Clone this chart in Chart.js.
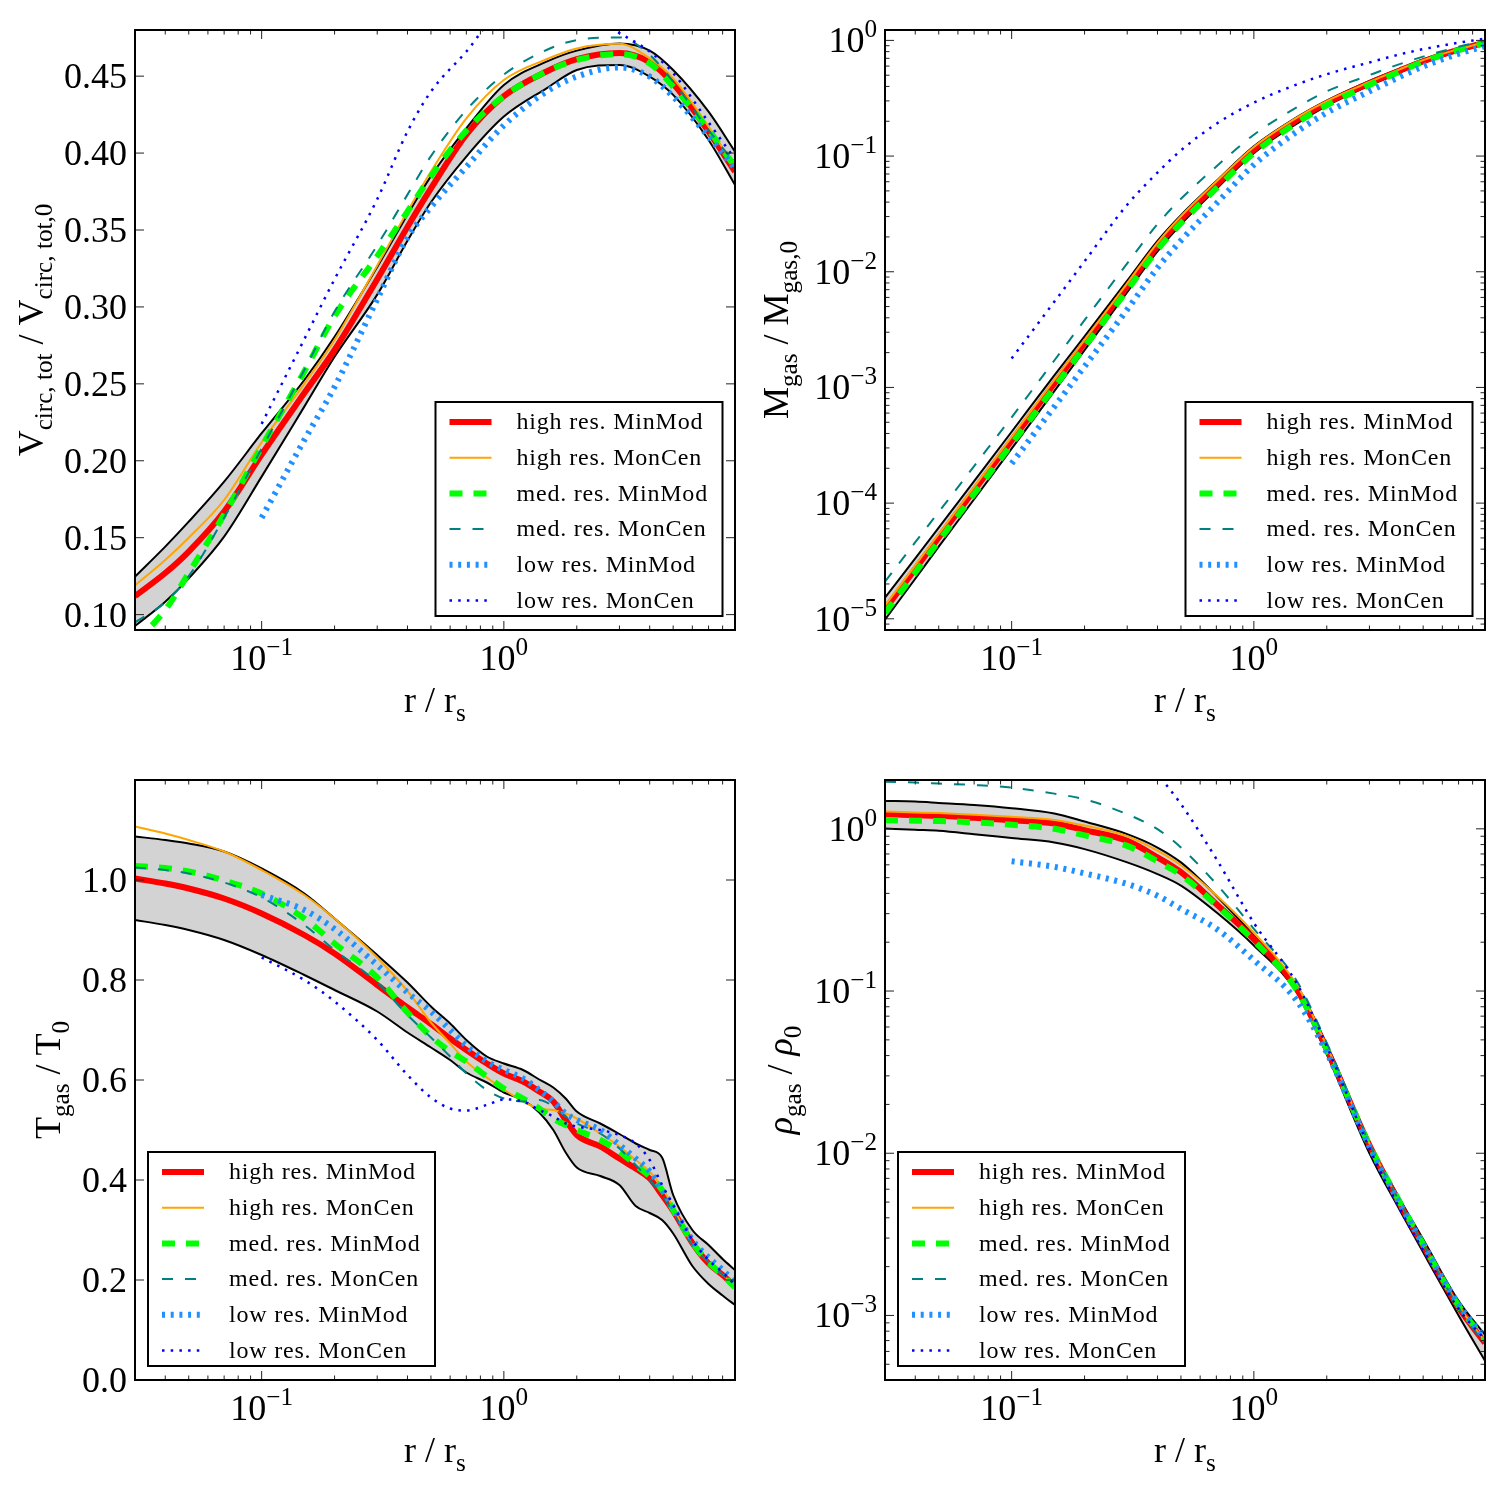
<!DOCTYPE html>
<html>
<head>
<meta charset="utf-8">
<script src="https://cdn.jsdelivr.net/npm/chart.js@4.4.1/dist/chart.umd.min.js"></script>
<style>
  html, body { margin: 0; padding: 0; background: #fff; }
  #wrap { position: relative; width: 1500px; height: 1500px; }
  #wrap canvas { position: absolute; }
</style>
</head>
<body>
<div id="wrap">
  <canvas id="pVc"  width="750" height="750" style="left:0;top:0"></canvas>
  <canvas id="pMg"  width="750" height="750" style="left:750px;top:0"></canvas>
  <canvas id="pT"   width="750" height="750" style="left:0;top:750px"></canvas>
  <canvas id="pRho" width="750" height="750" style="left:750px;top:750px"></canvas>
</div>
<script>
/* ---------- data ---------- */

const X_MIN = 0.03, X_MAX = 9;

// radii (r / r_s) at which the curves were read
const R_A = [0.03, 0.04, 0.05, 0.07, 0.1, 0.15, 0.2, 0.3, 0.4, 0.5, 0.7, 1, 1.5, 2, 3, 4, 5, 7, 9];
const R_T = [0.03, 0.04, 0.05, 0.07, 0.1, 0.15, 0.2, 0.3, 0.4, 0.5, 0.6, 0.7, 0.85, 1, 1.2, 1.4, 1.6, 1.8, 2, 2.5, 3, 3.5, 4, 4.5, 5, 6, 7, 8, 9];

const SERIES_LABELS = ['high res. MinMod', 'high res. MonCen', 'med. res. MinMod',
                       'med. res. MonCen', 'low res. MinMod', 'low res. MonCen'];

// V_circ,tot / V_circ,tot,0
const vcUpper   = [0.1247, 0.1442, 0.1604, 0.1864, 0.2179, 0.2525, 0.2806, 0.326, 0.360, 0.385, 0.4161, 0.4443, 0.4594, 0.4666, 0.4713, 0.4666, 0.454, 0.4269, 0.4009];
const vcLower   = [0.0926, 0.1084, 0.1236, 0.1507, 0.1897, 0.2352, 0.2676, 0.308, 0.343, 0.368, 0.3977, 0.4237, 0.4421, 0.454, 0.4573, 0.4497, 0.4378, 0.4085, 0.3793];
const vcHighMin = [0.112, 0.127, 0.141, 0.167, 0.204, 0.244, 0.272, 0.318, 0.352, 0.377, 0.412, 0.437, 0.453, 0.461, 0.465, 0.459, 0.445, 0.414, 0.388];
const vcHighMon = [0.119, 0.1355, 0.150, 0.1745, 0.212, 0.250, 0.2785, 0.327, 0.362, 0.388, 0.4226, 0.4475, 0.461, 0.468, 0.471, 0.4616, 0.4486, 0.4172, 0.391];
const vcMedMin  = [0.082, 0.103, 0.127, 0.165, 0.209, 0.258, 0.294, 0.333, 0.362, 0.385, 0.4146, 0.437, 0.453, 0.4605, 0.4644, 0.4583, 0.4432, 0.415, 0.391];
const vcMedMon  = [0.095, 0.108, 0.125, 0.163, 0.208, 0.259, 0.297, 0.340, 0.373, 0.398, 0.428, 0.451, 0.467, 0.4735, 0.4752, 0.4638, 0.4464, 0.415, 0.3934];
const vcLowMin  = [null, null, null, null, 0.163, 0.2135, 0.248, 0.305, 0.345, 0.365, 0.391, 0.418, 0.440, 0.4497, 0.4557, 0.4497, 0.4367, 0.4107, 0.390];
const vcLowMon  = [null, null, null, null, 0.224, 0.279, 0.318, 0.370, 0.414, 0.440, 0.466, 0.495, 0.500, 0.495, 0.478, 0.466, 0.452, 0.420, 0.396];

// M_gas / M_gas,0
const mgUpper   = [1.52e-5, 3.33e-5, 6.14e-5, 1.55e-4, 4.14e-4, 1.27e-3, 2.77e-3, 8.38e-3, 0.0185, 0.0309, 0.061, 0.1216, 0.216, 0.302, 0.447, 0.569, 0.684, 0.851, 0.977];
const mgLower   = [9.84e-6, 2.22e-5, 4.2e-5, 1.08e-4, 2.96e-4, 9.29e-4, 2.1e-3, 6.65e-3, 0.015, 0.0257, 0.0519, 0.106, 0.19, 0.272, 0.407, 0.525, 0.638, 0.804, 0.923];
const mgHighMin = [1.21e-5, 2.70e-5, 5.05e-5, 1.29e-4, 3.48e-4, 1.08e-3, 2.41e-3, 7.46e-3, 0.0167, 0.0282, 0.0562, 0.1135, 0.204, 0.288, 0.427, 0.55, 0.661, 0.832, 0.955];
const mgHighMon = [1.3e-5, 2.9e-5, 5.41e-5, 1.38e-4, 3.73e-4, 1.16e-3, 2.57e-3, 7.94e-3, 0.0178, 0.0302, 0.0603, 0.120, 0.214, 0.299, 0.437, 0.562, 0.676, 0.841, 0.966];
const mgMedMin  = [1.12e-5, 2.51e-5, 4.68e-5, 1.2e-4, 3.24e-4, 1.0e-3, 2.24e-3, 6.92e-3, 0.0155, 0.0263, 0.0525, 0.106, 0.193, 0.275, 0.412, 0.537, 0.653, 0.822, 0.944];
const mgMedMon  = [2.1e-5, 4.59e-5, 8.38e-5, 2.09e-4, 5.52e-4, 1.71e-3, 3.82e-3, 0.0118, 0.0258, 0.0427, 0.0813, 0.153, 0.263, 0.363, 0.501, 0.624, 0.724, 0.881, 0.99];
const mgLowMin  = [null, null, null, null, 2.2e-4, 6.81e-4, 1.52e-3, 4.71e-3, 0.0108, 0.0186, 0.0389, 0.0841, 0.162, 0.237, 0.363, 0.484, 0.596, 0.767, 0.891];
const mgLowMon  = [null, null, null, null, 1.78e-3, 5.5e-3, 0.0123, 0.038, 0.072, 0.112, 0.19, 0.29, 0.415, 0.51, 0.645, 0.757, 0.84, 0.955, 1.035];

// T_gas / T_0
const tUpper   = [1.087, 1.08, 1.073, 1.057, 1.023, 0.973, 0.923, 0.85, 0.795, 0.747, 0.713, 0.68, 0.647, 0.633, 0.62, 0.601, 0.585, 0.563, 0.537, 0.513, 0.492, 0.473, 0.46, 0.445, 0.37, 0.30, 0.27, 0.242, 0.22];
const tLower   = [0.92, 0.91, 0.90, 0.88, 0.85, 0.81, 0.78, 0.737, 0.695, 0.665, 0.64, 0.615, 0.595, 0.575, 0.56, 0.535, 0.50, 0.455, 0.425, 0.408, 0.39, 0.348, 0.334, 0.32, 0.293, 0.228, 0.192, 0.169, 0.15];
const tHighMin = [1.003, 0.993, 0.983, 0.963, 0.933, 0.89, 0.853, 0.79, 0.745, 0.712, 0.683, 0.66, 0.633, 0.613, 0.597, 0.577, 0.557, 0.52, 0.49, 0.467, 0.443, 0.423, 0.403, 0.37, 0.338, 0.274, 0.233, 0.21, 0.187];
const tHighMon = [1.107, 1.093, 1.08, 1.057, 1.02, 0.97, 0.923, 0.845, 0.778, 0.715, 0.673, 0.637, 0.605, 0.581, 0.557, 0.543, 0.54, 0.533, 0.523, 0.493, 0.467, 0.44, 0.417, 0.385, 0.345, 0.27, 0.235, 0.21, 0.19];
const tMedMin  = [1.028, 1.024, 1.017, 0.999, 0.973, 0.923, 0.873, 0.805, 0.735, 0.687, 0.657, 0.637, 0.607, 0.583, 0.563, 0.543, 0.523, 0.51, 0.50, 0.48, 0.457, 0.43, 0.407, 0.38, 0.34, 0.275, 0.235, 0.21, 0.185];
const tMedMon  = [1.025, 1.02, 1.013, 0.995, 0.965, 0.91, 0.86, 0.795, 0.73, 0.685, 0.647, 0.613, 0.58, 0.563, 0.557, 0.56, 0.547, 0.527, 0.513, 0.493, 0.463, 0.43, 0.40, 0.37, 0.335, 0.27, 0.235, 0.21, 0.19];
const tLowMin  = [null, null, null, null, 0.97, 0.94, 0.902, 0.83, 0.775, 0.737, 0.70, 0.668, 0.637, 0.62, 0.603, 0.58, 0.557, 0.533, 0.52, 0.50, 0.47, 0.443, 0.417, 0.38, 0.345, 0.28, 0.245, 0.22, 0.195];
const tLowMon  = [null, null, null, null, 0.845, 0.80, 0.757, 0.68, 0.61, 0.565, 0.543, 0.539, 0.55, 0.561, 0.557, 0.54, 0.527, 0.513, 0.507, 0.50, 0.49, 0.473, 0.44, 0.39, 0.35, 0.28, 0.24, 0.215, 0.19];

// rho_gas / rho_0
const rhoUpper   = [1.486, 1.472, 1.445, 1.403, 1.34, 1.242, 1.109, 0.927, 0.767, 0.621, 0.387, 0.22, 0.108, 0.0468, 0.0117, 5.25e-3, 2.95e-3, 1.23e-3, 7.59e-4];
const rhoLower   = [1.005, 0.986, 0.973, 0.927, 0.877, 0.824, 0.75, 0.621, 0.526, 0.447, 0.306, 0.191, 0.0986, 0.0407, 0.01, 4.47e-3, 2.45e-3, 1.0e-3, 5.25e-4];
const rhoHighMin = [1.23, 1.213, 1.202, 1.169, 1.13, 1.079, 0.982, 0.843, 0.667, 0.54, 0.344, 0.209, 0.1035, 0.0437, 0.0112, 4.9e-3, 2.69e-3, 1.12e-3, 6.76e-4];
const rhoHighMon = [1.279, 1.262, 1.25, 1.222, 1.186, 1.135, 1.047, 0.902, 0.733, 0.596, 0.389, 0.229, 0.11, 0.0457, 0.0115, 5.01e-3, 2.75e-3, 1.15e-3, 6.92e-4];
const rhoMedMin  = [1.13, 1.122, 1.117, 1.096, 1.059, 1.0, 0.912, 0.785, 0.631, 0.519, 0.339, 0.204, 0.102, 0.0437, 0.0112, 5.01e-3, 2.75e-3, 1.15e-3, 7.08e-4];
const rhoMedMon  = [1.95, 1.928, 1.901, 1.862, 1.795, 1.648, 1.521, 1.23, 0.995, 0.767, 0.457, 0.242, 0.116, 0.0479, 0.0115, 5.01e-3, 2.75e-3, 1.12e-3, 6.61e-4];
const rhoLowMin  = [null, null, null, null, 0.631, 0.583, 0.531, 0.457, 0.387, 0.321, 0.242, 0.155, 0.0877, 0.0417, 0.011, 4.9e-3, 2.75e-3, 1.17e-3, 7.24e-4];
const rhoLowMon  = [null, null, null, null, 31.6, 15.8, 8.9, 3.98, 2.19, 1.42, 0.652, 0.263, 0.112, 0.0457, 0.0107, 4.57e-3, 2.51e-3, 1.1e-3, 7.08e-4];

// tick labels
const X_TICKS  = [0.1, 1];
const X_LABELS = [['10', '\u22121'], ['10', '0']];
const VC_TICKS  = [0.10, 0.15, 0.20, 0.25, 0.30, 0.35, 0.40, 0.45];
const VC_LABELS = ['0.10', '0.15', '0.20', '0.25', '0.30', '0.35', '0.40', '0.45'];
const T_TICKS  = [0.0, 0.2, 0.4, 0.6, 0.8, 1.0];
const T_LABELS = ['0.0', '0.2', '0.4', '0.6', '0.8', '1.0'];
const MG_TICKS  = [1e-5, 1e-4, 1e-3, 1e-2, 1e-1, 1];
const MG_LABELS = [['10', '\u22125'], ['10', '\u22124'], ['10', '\u22123'], ['10', '\u22122'], ['10', '\u22121'], ['10', '0']];
const RHO_TICKS  = [1e-3, 1e-2, 1e-1, 1];
const RHO_LABELS = [['10', '\u22123'], ['10', '\u22122'], ['10', '\u22121'], ['10', '0']];

/* ---------- styles ---------- */

const STYLES = [
  { color: '#ff0000', width: 6,   dash: [] },
  { color: '#ffa500', width: 2,   dash: [] },
  { color: '#00ff00', width: 6,   dash: [13, 11] },
  { color: '#008080', width: 2,   dash: [11, 12] },
  { color: '#1e90ff', width: 6,   dash: [3, 5.7] },
  { color: '#0000ff', width: 2.5, dash: [2.5, 6.2] }
];
const FONT = '"Liberation Serif", "DejaVu Serif", serif';

function fontOf(size, italic) {
    return (italic ? 'italic ' : '') + size + 'px ' + FONT;
}

// parts: [text, mode]  mode 0 normal, 1 subscript, 2 superscript, 3 italic
function drawRich(ctx, parts, x, y, size, align) {
    let w = 0;
    const segs = parts.map(([t, m]) => {
        const sz = (m === 1 || m === 2) ? size * 0.7 : size;
        ctx.font = fontOf(sz, m === 3);
        const s = { t, m, sz, x: w, dy: m === 1 ? size * 0.24 : (m === 2 ? -size * 0.42 : 0) };
        w += ctx.measureText(t).width;
        return s;
    });
    const x0 = align === 'center' ? x - w / 2 : (align === 'right' ? x - w : x);
    ctx.textAlign = 'left';
    ctx.textBaseline = 'alphabetic';
    segs.forEach(s => {
        ctx.font = fontOf(s.sz, s.m === 3);
        ctx.fillText(s.t, x0 + s.x, y + s.dy);
    });
}

function logTicks(min, max) {
    const out = [];
    for (let e = Math.floor(Math.log10(min)); e <= Math.ceil(Math.log10(max)); e++) {
        for (let k = 1; k <= 9; k++) {
            const v = k * Math.pow(10, e);
            if (v >= min * 0.999 && v <= max * 1.001) out.push({ v, major: k === 1 });
        }
    }
    return out;
}

function makeDecor(p) {
    return {
        id: 'decor',
        afterDraw(chart) {
            const ctx = chart.ctx, a = chart.chartArea;
            const xs = chart.scales.x, ys = chart.scales.y;
            ctx.save();

            // inward ticks on all four sides
            ctx.strokeStyle = '#222';
            ctx.lineWidth = 1;
            const seg = (x1, y1, x2, y2) => { ctx.beginPath(); ctx.moveTo(x1, y1); ctx.lineTo(x2, y2); ctx.stroke(); };
            logTicks(X_MIN, X_MAX).forEach(t => {
                const x = xs.getPixelForValue(t.v), L = t.major ? 9 : 4.5;
                seg(x, a.bottom, x, a.bottom - L);
                seg(x, a.top, x, a.top + L);
            });
            const yt = p.logY ? logTicks(p.yMin, p.yMax) : p.yTicks.map(v => ({ v, major: true }));
            yt.forEach(t => {
                const y = ys.getPixelForValue(t.v), L = t.major ? 9 : 4.5;
                seg(a.left, y, a.left + L, y);
                seg(a.right, y, a.right - L, y);
            });

            // frame
            ctx.strokeStyle = '#000';
            ctx.lineWidth = 2;
            ctx.strokeRect(a.left, a.top, a.right - a.left, a.bottom - a.top);

            // tick labels
            ctx.fillStyle = '#000';
            X_TICKS.forEach((v, i) => {
                drawRich(ctx, [[X_LABELS[i][0], 0], [X_LABELS[i][1], 2]], xs.getPixelForValue(v), a.bottom + 40, 36, 'center');
            });
            p.yTicks.forEach((v, i) => {
                const y = ys.getPixelForValue(v) + 12;
                const lab = p.yLabels[i];
                const parts = Array.isArray(lab) ? [[lab[0], 0], [lab[1], 2]] : [[lab, 0]];
                drawRich(ctx, parts, a.left - 8, y, 36, 'right');
            });

            // axis titles
            drawRich(ctx, [['r / r', 0], ['s', 1]], (a.left + a.right) / 2, a.bottom + 82, 36, 'center');
            ctx.save();
            ctx.translate(p.titleX, (a.top + a.bottom) / 2);
            ctx.rotate(-Math.PI / 2);
            drawRich(ctx, p.title, 0, 0, 36, 'center');
            ctx.restore();

            // legend
            const W = 287, H = 214;
            const bx = p.legendRight ? a.right - 12.5 - W : a.left + 13;
            const by = a.bottom - 14 - H;
            ctx.fillStyle = '#fff';
            ctx.fillRect(bx, by, W, H);
            ctx.strokeStyle = '#000';
            ctx.lineWidth = 2;
            ctx.strokeRect(bx, by, W, H);
            STYLES.forEach((s, i) => {
                const y = by + 20 + i * 35.7;
                ctx.beginPath();
                ctx.setLineDash(s.dash);
                ctx.lineCap = 'butt';
                ctx.lineWidth = s.width;
                ctx.strokeStyle = s.color;
                ctx.moveTo(bx + 14, y);
                ctx.lineTo(bx + 56, y);
                ctx.stroke();
                ctx.setLineDash([]);
                ctx.fillStyle = '#000';
                ctx.font = fontOf(24, false);
                if ('letterSpacing' in ctx) ctx.letterSpacing = '0.8px';
                ctx.textAlign = 'left';
                ctx.textBaseline = 'middle';
                ctx.fillText(SERIES_LABELS[i], bx + 81, y + 1);
                if ('letterSpacing' in ctx) ctx.letterSpacing = '0px';
            });
            ctx.restore();
        }
    };
}

function pts(xs, ys) {
    const out = [];
    xs.forEach((x, i) => { if (ys[i] !== null) out.push({ x, y: ys[i] }); });
    return out;
}

function panel(id, p) {
    const datasets = [
        { data: pts(p.r, p.upper), borderColor: '#000', borderWidth: 2, fill: '+1', backgroundColor: '#d3d3d3', order: 21 },
        { data: pts(p.r, p.lower), borderColor: '#000', borderWidth: 2, fill: false, order: 20 }
    ];
    p.series.forEach((vals, i) => {
        const s = STYLES[i];
        datasets.push({
            label: SERIES_LABELS[i], data: pts(p.r, vals),
            borderColor: s.color, borderWidth: s.width, borderDash: s.dash,
            fill: false, order: 6 - i
        });
    });
    return new Chart(document.getElementById(id), {
        type: 'line',
        data: { datasets },
        options: {
            responsive: false, animation: false, devicePixelRatio: 1,
            layout: { padding: { left: 135, top: 30, right: 15, bottom: 120 } },
            elements: {
                point: { radius: 0 },
                line: { tension: 0.4, cubicInterpolationMode: 'monotone', borderCapStyle: 'butt', borderJoinStyle: 'round' }
            },
            datasets: { line: { clip: 0 } },
            scales: {
                x: { type: 'logarithmic', min: X_MIN, max: X_MAX, display: false },
                y: { type: p.logY ? 'logarithmic' : 'linear', min: p.yMin, max: p.yMax, display: false }
            },
            plugins: { legend: { display: false }, tooltip: { enabled: false } }
        },
        plugins: [makeDecor(p)]
    });
}

panel('pVc', {
    r: R_A, upper: vcUpper, lower: vcLower,
    series: [vcHighMin, vcHighMon, vcMedMin, vcMedMon, vcLowMin, vcLowMon],
    logY: false, yMin: 0.09, yMax: 0.48, yTicks: VC_TICKS, yLabels: VC_LABELS,
    titleX: 43, legendRight: true,
    title: [['V', 0], ['circ, tot', 1], [' / V', 0], ['circ, tot,0', 1]]
});
panel('pMg', {
    r: R_A, upper: mgUpper, lower: mgLower,
    series: [mgHighMin, mgHighMon, mgMedMin, mgMedMon, mgLowMin, mgLowMon],
    logY: true, yMin: 8e-6, yMax: 1.23, yTicks: MG_TICKS, yLabels: MG_LABELS,
    titleX: 38, legendRight: true,
    title: [['M', 0], ['gas', 1], [' / M', 0], ['gas,0', 1]]
});
panel('pT', {
    r: R_T, upper: tUpper, lower: tLower,
    series: [tHighMin, tHighMon, tMedMin, tMedMon, tLowMin, tLowMon],
    logY: false, yMin: 0, yMax: 1.2, yTicks: T_TICKS, yLabels: T_LABELS,
    titleX: 60, legendRight: false,
    title: [['T', 0], ['gas', 1], [' / T', 0], ['0', 1]]
});
panel('pRho', {
    r: R_A, upper: rhoUpper, lower: rhoLower,
    series: [rhoHighMin, rhoHighMon, rhoMedMin, rhoMedMon, rhoLowMin, rhoLowMon],
    logY: true, yMin: 4e-4, yMax: 2.0, yTicks: RHO_TICKS, yLabels: RHO_LABELS,
    titleX: 42, legendRight: false,
    title: [['\u03c1', 3], ['gas', 1], [' / ', 0], ['\u03c1', 3], ['0', 1]]
});
</script>
</body>
</html>
